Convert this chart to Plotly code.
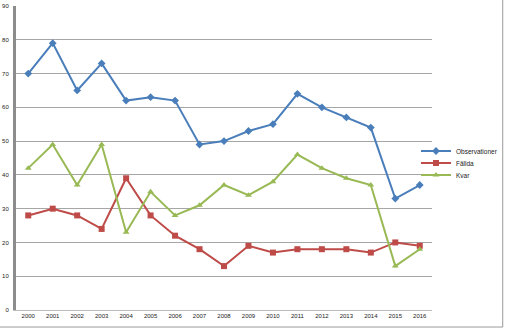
import plotly.graph_objects as go

years = [str(y) for y in range(2000, 2017)]
observationer = [70, 79, 65, 73, 62, 63, 62, 49, 50, 53, 55, 64, 60, 57, 54, 33, 37]
fallda = [28, 30, 28, 24, 39, 28, 22, 18, 13, 19, 17, 18, 18, 18, 17, 20, 19]
kvar = [42, 49, 37, 49, 23, 35, 28, 31, 37, 34, 38, 46, 42, 39, 37, 13, 18]

fig = go.Figure()
fig.add_trace(go.Scatter(x=years, y=observationer, name="Observationer", mode="lines+markers",
                         line=dict(color="#4A7EBB", width=2), showlegend=True,
                         marker=dict(symbol="diamond", size=6, color="#4A7EBB"), legend="legend"))
fig.add_trace(go.Scatter(x=years, y=fallda, name="Fällda", mode="lines+markers",
                         line=dict(color="#BE4B48", width=2), showlegend=True,
                         marker=dict(symbol="square", size=6, color="#BE4B48"), legend="legend2"))
fig.add_trace(go.Scatter(x=years, y=kvar, name="Kvar", mode="lines+markers",
                         line=dict(color="#98B954", width=2), showlegend=True,
                         marker=dict(symbol="triangle-up", size=6, color="#98B954"), legend="legend3"))

leg_common = dict(xref="container", yref="container", xanchor="left", yanchor="middle",
                  font=dict(size=6.5), itemwidth=30, bgcolor="rgba(0,0,0,0)",
                  borderwidth=0)
fig.update_layout(
    width=507, height=328,
    showlegend=True,
    margin=dict(l=16, r=75, t=6, b=18, autoexpand=False),
    paper_bgcolor="white", plot_bgcolor="white",
    font=dict(family="Liberation Sans, Arial", size=6, color="#222222"),
    legend=dict(x=416 / 507, y=1 - 151 / 328, **leg_common),
    legend2=dict(x=416 / 507, y=1 - 163 / 328, **leg_common),
    legend3=dict(x=416 / 507, y=1 - 175 / 328, **leg_common),
    xaxis=dict(type="category", showgrid=False, showline=True, linecolor="#BBBBBB",
               linewidth=1, ticks="", tickfont=dict(size=6), range=[-0.5, 16.5],
               fixedrange=True),
    yaxis=dict(range=[0, 90], dtick=10, showgrid=True, gridcolor="#A6A6A6", gridwidth=1,
               showline=True, linecolor="#8C8C8C", linewidth=3, ticks="",
               tickfont=dict(size=6), zeroline=False, ticklabelstandoff=3),
    shapes=[dict(type="rect", xref="paper", yref="paper", x0=-0.2, x1=1.17, y0=-0.056, y1=1.2,
                 line=dict(color="#9A9A9A", width=1), fillcolor="rgba(0,0,0,0)", layer="below")],
)

fig.write_html("out.html")
